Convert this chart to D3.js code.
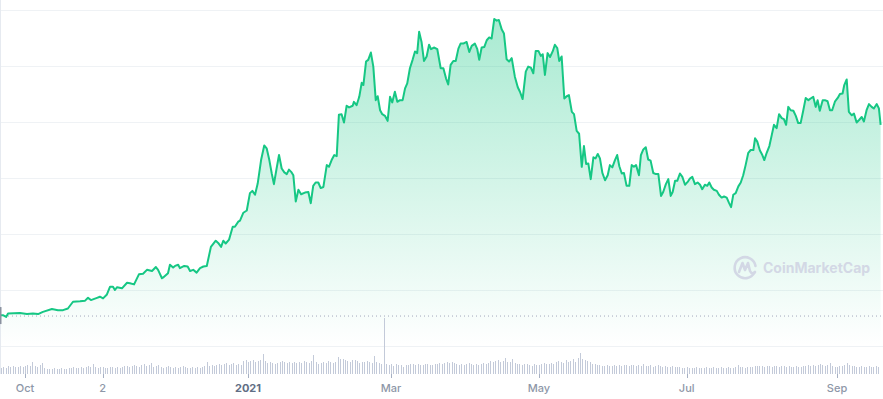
<!DOCTYPE html>
<html>
<head>
<meta charset="utf-8">
<script src="https://cdn.jsdelivr.net/npm/d3@7"></script>
<style>
  html, body { margin: 0; padding: 0; background: #fff; }
  svg { display: block; font-family: Inter, "Noto Sans", sans-serif; }
</style>
</head>
<body>
<svg id="chart" width="883" height="399"></svg>
<script>
// days since 2020-09-21
const startDate = new Date(2020, 8, 21)
const days = [
  0, 0.9, 2.2, 3.0, 7.9, 10.8, 13.3, 15.4, 17.4, 21.1, 23.6, 25.7, 27.7, 29.8, 32.7, 34.8, 36.0, 37.2, 39.7, 40.9,
  42.2, 43.8, 45.1, 46.3, 47.1, 48.0, 50.0, 52.1, 53.3, 55.0, 57.0, 58.7, 60.3, 62.4, 64.0, 64.9, 66.5, 66.9, 69.0, 69.8, 71.1,
  71.9, 73.2, 73.9, 75.7, 77.1, 78.1, 79.4, 80.8, 82.2, 83.6, 85.0, 86.7, 88.7, 89.7, 90.9, 91.8, 92.8, 94.2, 95.7, 96.6,
  98.0, 98.7, 100.1, 101.5, 102.8, 103.8, 104.9, 106.0, 107.4, 108.7, 109.7, 110.8, 111.8, 112.7, 113.8, 114.8, 115.9, 117.0, 118.0, 118.9,
  120.0, 120.7, 121.7, 122.8, 123.9, 125.5, 126.9, 127.9, 128.9, 129.9, 131.0, 132.0, 133.1, 134.5, 135.4, 136.5, 137.6, 138.6, 139.5, 140.6,
  141.6, 142.7, 143.7,
  145.2, 145.7, 146.8, 147.9, 148.9, 149.6, 150.7, 151.6, 152.7, 153.7, 154.7, 155.5, 156.5, 157.4, 158.5, 159.6, 160.6, 161.5, 162.6, 163.6,
  164.7, 165.8, 166.8, 167.7, 168.8, 169.9, 170.9, 171.8, 172.6, 173.6, 174.6, 175.7, 176.7, 177.5, 178.7, 180.1, 181.5, 182.6, 183.7, 184.6,
  185.6, 186.7, 187.7, 188.8, 189.7, 190.8, 192.2, 193.3, 194.3, 195.6, 196.6, 197.4, 198.4, 199.5, 200.5, 201.5, 202.5, 203.6, 204.6, 205.5,
  206.7, 207.6, 208.7, 209.7, 210.8, 212.1, 213.3, 214.2, 215.3, 216.6, 217.6,
  218.7, 219.7, 220.7, 221.8, 222.8, 223.6, 224.5, 225.6, 226.6, 227.7, 228.6, 229.6, 230.4, 231.4, 232.5, 233.5, 234.4, 235.6, 236.5, 237.6,
  238.6, 239.7, 240.6, 241.5, 242.4, 243.4, 244.5, 245.4, 246.3, 247.2, 248.2, 249.3, 250.4, 251.3, 252.3, 253.4, 254.3, 255.2, 256.2, 257.1,
  258.2, 259.3, 260.3, 261.2, 262.1, 263.3, 264.1, 265.1, 266.1, 267.1, 268.1, 269.2, 270.3, 271.3, 272.4, 273.3, 274.4, 275.4, 276.4, 277.2,
  278.2, 279.1, 280.2, 281.2, 282.3, 283.4, 284.3, 285.3, 286.4, 287.5, 288.5, 289.4,
  290.5, 291.5, 292.3, 293.3, 294.2, 295.4, 296.3, 297.4, 298.4, 299.5, 300.4, 301.3, 302.2, 303.2, 304.3, 305.3, 306.3, 307.3, 308.4, 309.4,
  310.5, 311.2, 312.1, 313.2, 314.2, 315.0, 316.0, 317.1, 318.1, 319.0, 320.1, 321.1, 322.2, 323.1, 324.0, 324.9, 325.9, 327.0, 328.0, 329.0,
  330.0, 331.1, 332.1, 333.2, 334.1, 335.2, 336.2, 337.0, 337.9, 339.1, 340.0, 341.1, 342.1, 343.0, 344.2, 345.3, 346.2, 347.3, 348.0, 349.0,
  349.9, 351.1, 352.0, 353.1, 354.2, 355.2, 356.1, 357.2, 358.2, 359.3, 360.2, 361.4, 362.3, 363.0
]
const prices = [
  5.5, 5.5, 5.2, 5.8, 5.9, 5.7, 5.8, 5.7, 6.1, 6.6, 6.4, 6.4, 6.7, 7.9, 8.0, 8.1, 8.6, 8.2, 8.6, 8.8,
  8.5, 9.2, 10.6, 10.6, 10.0, 10.5, 10.3, 11.3, 11.2, 11.0, 12.8, 12.9, 13.6, 13.4, 14.1, 13.6, 12.1, 12.2, 13.0, 14.5, 14.0,
  14.3, 14.5, 13.9, 14.3, 14.2, 13.4, 13.6, 13.1, 13.9, 14.2, 14.3, 17.7, 18.8, 18.4, 17.7, 18.8, 18.3, 19.0, 21.3, 21.3,
  22.2, 22.4, 23.8, 24.2, 27.3, 27.7, 27.0, 29.0, 33.2, 35.8, 35.3, 33.2, 30.8, 28.9, 31.7, 34.1, 31.7, 31.0, 30.7, 31.5,
  31.0, 30.5, 25.8, 27.9, 27.1, 27.4, 27.5, 25.5, 28.6, 29.2, 29.2, 28.2, 28.4, 32.3, 32.0, 33.2, 34.1, 33.9, 41.3, 41.4,
  39.9, 42.9, 42.6,
  42.9, 43.6, 43.0, 44.5, 47.0, 46.6, 50.8, 51.1, 52.4, 49.9, 43.9, 44.6, 42.1, 41.4, 41.1, 40.2, 44.5, 43.5, 45.4, 43.6,
  43.9, 43.9, 46.0, 46.9, 49.6, 51.1, 52.6, 52.3, 56.1, 54.3, 50.9, 51.7, 53.8, 53.0, 53.3, 53.0, 49.6, 49.6, 47.8, 46.7,
  50.2, 50.9, 50.9, 53.1, 54.0, 54.0, 54.3, 52.5, 53.6, 54.0, 53.0, 51.1, 53.3, 53.4, 54.6, 55.1, 54.9, 58.4, 58.1, 58.2,
  56.5, 55.8, 51.2, 50.8, 51.4, 48.1, 46.2, 45.4, 44.1, 49.0, 49.9,
  49.7, 48.7, 52.7, 52.7, 51.8, 52.1, 48.4, 52.3, 51.6, 52.6, 53.8, 53.2, 50.9, 51.7, 44.2, 44.6, 44.8, 41.8, 41.4, 38.4,
  37.9, 32.0, 35.7, 32.5, 32.6, 29.8, 33.7, 33.5, 34.3, 33.5, 30.9, 29.6, 30.5, 32.3, 31.9, 33.2, 34.1, 32.1, 30.8, 30.9,
  28.6, 28.6, 32.3, 32.0, 32.3, 30.5, 34.1, 35.1, 35.5, 33.3, 33.1, 30.9, 30.7, 30.7, 26.8, 27.5, 28.9, 29.8, 26.8, 27.5,
  29.5, 29.5, 30.8, 30.2, 28.8, 29.3, 29.9, 30.2, 28.9, 29.2, 28.8, 28.0,
  28.8, 28.6, 29.2, 28.3, 27.9, 27.7, 27.0, 26.5, 26.7, 26.5, 25.6, 24.8, 27.0, 27.3, 28.5, 29.2, 30.5, 32.3, 34.5, 35.0,
  35.0, 37.1, 36.5, 34.9, 34.1, 33.2, 34.5, 35.7, 37.7, 39.5, 38.9, 41.4, 40.7, 40.5, 39.5, 42.7, 42.1, 42.0, 41.1, 39.8,
  39.8, 42.1, 44.3, 43.9, 44.2, 44.5, 42.7, 43.9, 42.0, 43.9, 43.9, 43.7, 42.1, 42.1, 43.7, 44.3, 45.0, 45.1, 46.6, 47.6,
  41.8, 41.2, 41.5, 39.9, 40.4, 40.9, 40.1, 42.1, 43.2, 42.7, 42.4, 43.2, 42.4, 39.5
]
// one bar per day from 2020-09-21
const volumes = [
  6, 7, 6, 8, 7, 8, 7, 7, 8, 7,  8, 9, 8, 12, 8, 7, 9, 11, 6, 5,
  5, 5, 6, 5, 5, 6, 5, 5, 6, 6,  7, 6, 6, 7, 6, 7, 8, 7, 10, 7,
  6, 7, 7, 6, 6, 7, 7, 6, 7, 6,  7, 8, 8, 7, 8, 9, 8, 7, 9, 10,
  8, 9, 11, 7, 8, 9, 7, 6, 7, 8,  7, 6, 7, 6, 7, 8, 7, 6, 6, 7,
  6, 7, 6, 7, 8, 12, 8, 9, 8, 9,  10, 9, 10, 11, 9, 10, 11, 9, 10, 9,
  13, 14, 12, 13, 14, 12, 13, 14, 20, 13,  11, 12, 11, 10, 11, 12, 13, 12, 11, 12,
  11, 12, 11, 12, 11, 13, 12, 11, 13, 19,  12, 10, 11, 12, 11, 13, 12, 11, 12, 17,
  15, 15, 14, 13, 12, 14, 14, 13, 11, 12,  12, 13, 12, 11, 18, 12, 11, 10, 56, 10,
  9, 10, 8, 10, 9, 9, 7, 9, 9, 10,  10, 9, 10, 9, 9, 10, 10, 9, 9, 10,
  10, 11, 10, 11, 12, 11, 12, 11, 10, 9,  10, 9, 10, 11, 10, 9, 10, 9, 10, 11,
  10, 11, 13, 12, 13, 14, 12, 13, 16, 12,  12, 15, 11, 10, 10, 9, 10, 10, 9, 8,
  10, 9, 9, 10, 11, 10, 10, 11, 10, 12,  13, 12, 11, 14, 12, 13, 15, 12, 16, 21,
  15, 14, 13, 12, 10, 10, 9, 9, 8, 8,  9, 8, 8, 9, 8, 9, 8, 9, 9, 8,
  9, 9, 8, 9, 8, 10, 8, 8, 9, 7,  8, 9, 8, 7, 8, 7, 7, 8, 7, 7,
  7, 6, 6, 7, 6, 6, 6, 7, 6, 6,  6, 7, 6, 6, 7, 6, 6, 7, 6, 6,
  7, 6, 6, 7, 9, 7, 7, 6, 7, 7,  7, 8, 8, 8, 8, 7, 8, 8, 7, 8,
  8, 7, 8, 8, 7, 8, 7, 7, 8, 7,  7, 8, 8, 9, 8, 9, 8, 9, 10, 9,
  8, 9, 11, 8, 7, 7, 8, 8, 9, 11,  9, 8, 8, 7, 7, 8, 7, 7, 8, 7, 7, 8, 7
]
const refPrice = 5.35
const priceTicks = [0, 10, 20, 30, 40, 50, 60]
const tickDates = [
  new Date(2020, 9, 1), new Date(2020, 10, 2), new Date(2021, 0, 1),
  new Date(2021, 2, 1), new Date(2021, 4, 1), new Date(2021, 6, 1), new Date(2021, 8, 1)
]
const tickLabels = ['Oct', '2', '2021', 'Mar', 'May', 'Jul', 'Sep']

const W = 883
const dayMs = 864e5
const toDate = (d) => new Date(startDate.getTime() + d * dayMs)

const points = d3.range(Math.min(days.length, prices.length))
  .map((i) => ({date: toDate(days[i]), price: prices[i]}))

const x = d3.scaleTime()
  .domain([new Date(2020, 9, 1), new Date(2021, 8, 1)])
  .range([25, 837])
const y = d3.scaleLinear().domain([0, 60]).range([346, 10])
const yVol = d3.scaleLinear().domain([0, 56]).range([374, 318])

const svg = d3.select('#chart')

const defs = svg.append('defs')
const grad = defs.append('linearGradient')
  .attr('id', 'fillGrad')
  .attr('gradientUnits', 'userSpaceOnUse')
  .attr('x1', 0).attr('x2', 0)
  .attr('y1', y(60)).attr('y2', y(0))
grad.append('stop').attr('offset', '0%').attr('stop-color', '#16c784').attr('stop-opacity', 0.38)
grad.append('stop').attr('offset', '100%').attr('stop-color', '#16c784').attr('stop-opacity', 0)

// grid
svg.append('g')
  .selectAll('line')
  .data(priceTicks)
  .join('line')
  .attr('x1', 0).attr('x2', W)
  .attr('y1', (d) => y(d) + 0.5).attr('y2', (d) => y(d) + 0.5)
  .attr('stroke', '#eff2f5')
  .attr('stroke-width', 1)

svg.append('line')
  .attr('x1', 0.5).attr('x2', 0.5)
  .attr('y1', 0).attr('y2', 374)
  .attr('stroke', '#e6eaf0')

// area + line
const area = d3.area()
  .x((d) => x(d.date))
  .y0(y(0))
  .y1((d) => y(d.price))
const line = d3.line()
  .x((d) => x(d.date))
  .y((d) => y(d.price))

svg.append('path')
  .datum(points)
  .attr('d', area)
  .attr('fill', 'url(#fillGrad)')

// reference line at the opening price
svg.append('line')
  .attr('x1', 0).attr('x2', W)
  .attr('y1', y(refPrice)).attr('y2', y(refPrice))
  .attr('stroke', '#a1a7bb')
  .attr('stroke-width', 1)
  .attr('stroke-dasharray', '1 3')

svg.append('path')
  .datum(points)
  .attr('d', line)
  .attr('fill', 'none')
  .attr('stroke', '#16c784')
  .attr('stroke-width', 2)
  .attr('stroke-linejoin', 'round')

svg.append('rect')
  .attr('x', 0).attr('y', y(refPrice) - 9)
  .attr('width', 1.5).attr('height', 17)
  .attr('fill', '#8a919f')

// volume bars, snapped to whole pixels
svg.append('g')
  .attr('shape-rendering', 'crispEdges')
  .selectAll('rect')
  .data(volumes)
  .join('rect')
  .attr('x', (d, i) => Math.round(x(toDate(i))))
  .attr('y', (d) => Math.round(yVol(d)))
  .attr('width', 1)
  .attr('height', (d) => yVol(0) - Math.round(yVol(d)))
  .attr('fill', '#c3cad9')

// x axis
const axis = svg.append('g')
axis.selectAll('line')
  .data(tickDates)
  .join('line')
  .attr('x1', (d) => Math.round(x(d)) + 0.5).attr('x2', (d) => Math.round(x(d)) + 0.5)
  .attr('y1', 374).attr('y2', 378)
  .attr('stroke', '#a6b0c3')
axis.selectAll('text')
  .data(tickDates)
  .join('text')
  .attr('x', (d) => x(d))
  .attr('y', 392)
  .attr('text-anchor', 'middle')
  .attr('font-size', 11)
  .attr('font-weight', (d, i) => tickLabels[i] === '2021' ? 700 : 500)
  .attr('fill', (d, i) => tickLabels[i] === '2021' ? '#616e85' : '#8e97a8')
  .text((d, i) => tickLabels[i])

// watermark
const mark = svg.append('g').attr('transform', 'translate(745,267)')
mark.append('path')
  .attr('d', 'M 9.5 5.5 A 10.5 10.5 0 1 1 10.5 -1')
  .attr('fill', 'none')
  .attr('stroke', '#d3d8e5')
  .attr('stroke-width', 2.6)
  .attr('stroke-linecap', 'round')
mark.append('path')
  .attr('d', 'M -6 5 L -2.5 -4 L 0 3 L 3 -4 L 5 4 Q 7 8 10 5')
  .attr('fill', 'none')
  .attr('stroke', '#d3d8e5')
  .attr('stroke-width', 2.6)
  .attr('stroke-linejoin', 'round')
  .attr('stroke-linecap', 'round')
svg.append('text')
  .attr('x', 763)
  .attr('y', 272.5)
  .attr('font-size', 14)
  .attr('font-weight', 700)
  .attr('fill', '#d3d8e5')
  .text('CoinMarketCap')
</script>
</body>
</html>
